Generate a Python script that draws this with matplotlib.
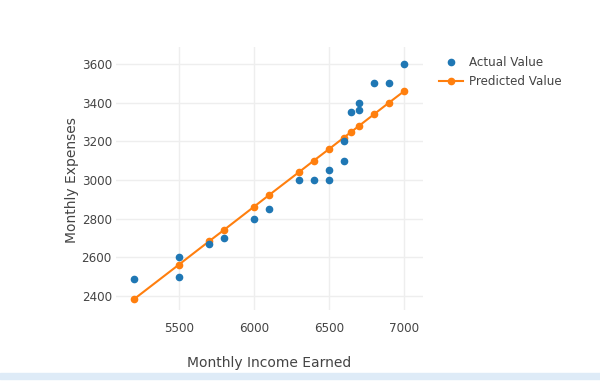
import matplotlib
matplotlib.use("Agg")
import matplotlib.pyplot as plt
from matplotlib.patches import Rectangle

plt.rcParams['font.family'] = ['DejaVu Sans']

# actual observations
income = [5200, 5500, 5500, 5700, 5800, 6000, 6100, 6300, 6400, 6500, 6500,
          6600, 6600, 6650, 6700, 6700, 6800, 6900, 7000]
expenses = [2490, 2600, 2500, 2670, 2700, 2800, 2850, 3000, 3000, 3000, 3050,
            3100, 3200, 3350, 3360, 3400, 3500, 3500, 3600]

# model predictions (sorted by income)
pred_income = [5200, 5500, 5700, 5800, 6000, 6100, 6300, 6400, 6500, 6600,
               6650, 6700, 6800, 6900, 7000]
pred_expenses = [2384, 2563, 2683, 2742, 2862, 2922, 3041, 3101, 3160, 3220,
                 3250, 3280, 3340, 3400, 3459]

xticks = [5500, 6000, 6500, 7000]
yticks = [2400, 2600, 2800, 3000, 3200, 3400, 3600]

text_col = '#444444'
blue = '#1f77b4'
orange = '#ff7f0e'

fig = plt.figure(figsize=(6, 3.84), dpi=100)
ax = fig.add_axes([116 / 600, 1 - 310 / 384, 307 / 600, 263 / 384])

ax.plot(income, expenses, 'o', color=blue, markersize=4.5, label='Actual Value', zorder=3)
ax.plot(pred_income, pred_expenses, '-o', color=orange, markersize=4.5, linewidth=1.5,
        label='Predicted Value', zorder=2)

ax.set_xlim(5080, 7127)
ax.set_ylim(2328, 3688)
ax.set_xticks(xticks)
ax.set_yticks(yticks)
ax.grid(True, color='#eeeeee', linewidth=1)
ax.set_axisbelow(True)
for s in ax.spines.values():
    s.set_visible(False)
ax.tick_params(length=0, labelsize=8.6, labelcolor=text_col)
ax.tick_params(axis='x', pad=9)
ax.tick_params(axis='y', pad=3)

ax.set_xlabel('Monthly Income Earned', fontsize=10, color=text_col)
ax.xaxis.set_label_coords(0.498, -0.175)
ax.set_ylabel('Monthly Expenses', fontsize=10, color=text_col)
ax.yaxis.set_label_coords(-0.12, 0.494)

leg = ax.legend(loc='upper left', bbox_to_anchor=(428 / 600, 1 - 45 / 384),
                bbox_transform=fig.transFigure, frameon=False, fontsize=8.6,
                handlelength=2.0, handletextpad=0.5, labelspacing=0.5)
for t in leg.get_texts():
    t.set_color(text_col)

fig.patches.append(Rectangle((0, 1 - 379 / 384), 1, 6 / 384, transform=fig.transFigure,
                             color='#deebf7', zorder=0))

fig.savefig('out.png', dpi=100)
